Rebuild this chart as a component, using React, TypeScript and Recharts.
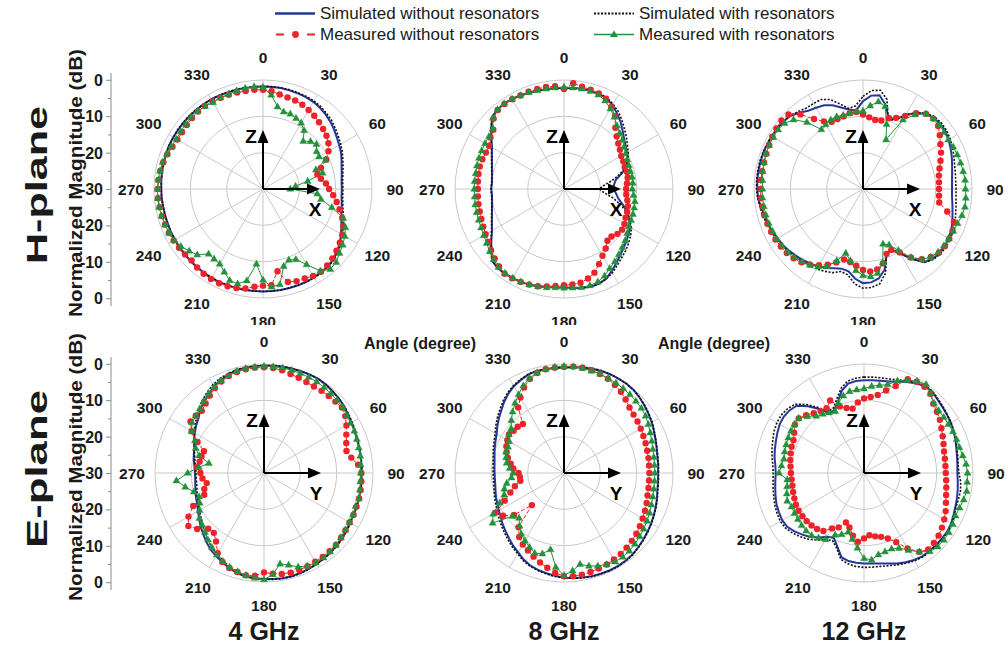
import {
  RadarChart, Radar, PolarGrid, PolarAngleAxis, PolarRadiusAxis,
  LineChart, Line, XAxis, YAxis,
} from 'recharts';

// angle categories, degrees clockwise from the top
const ANGLES = [
  0, 5, 10, 15, 20, 25, 30, 35, 40, 45, 50, 55,
  60, 65, 70, 75, 80, 85, 90, 95, 100, 105, 110, 115,
  120, 125, 130, 135, 140, 145, 150, 155, 160, 165, 170, 175,
  180, 185, 190, 195, 200, 205, 210, 215, 220, 225, 230, 235,
  240, 245, 250, 255, 260, 265, 270, 275, 280, 285, 290, 295,
  300, 305, 310, 315, 320, 325, 330, 335, 340, 345, 350, 355,
];
const ANGLE_LABELS = [0, 30, 60, 90, 120, 150, 180, 210, 240, 270, 300, 330];
const RING_DB = [-20, -10, 0];
// signed distance from the -30 dB centre, shown as 0 -10 -20 -30 -20 -10 0
const MAG_TICKS = [-30, -25, -20, -15, -10, -5, 0, 5, 10, 15, 20, 25, 30];

// ---- H-plane, 4 GHz (dB)
const H4_SIM_NO = [
  -1.8, -1.8, -1.8, -1.9, -2.0, -2.1, -2.3, -2.7, -3.2, -3.8, -4.5, -5.2,
  -5.8, -6.3, -7.0, -7.6, -8.0, -8.3, -8.3, -8.3, -8.0, -7.6, -7.0, -6.2,
  -5.2, -4.2, -3.3, -2.6, -2.2, -2.0, -1.9, -1.8, -1.8, -1.8, -1.8, -1.8,
  -1.8, -1.8, -1.8, -1.8, -1.7, -1.7, -1.7, -1.8, -1.8, -1.9, -1.9, -2.0,
  -2.0, -2.0, -2.1, -2.1, -2.1, -2.0, -2.0, -1.9, -1.8, -1.7, -1.6, -1.5,
  -1.5, -1.5, -1.5, -1.5, -1.5, -1.5, -1.5, -1.6, -1.7, -1.7, -1.8, -1.8,
];
const H4_SIM_WITH = [
  -1.7, -1.7, -1.7, -1.7, -1.8, -1.9, -2.0, -2.3, -2.8, -3.3, -4.0, -4.7,
  -5.3, -5.9, -6.6, -7.2, -7.7, -8.0, -8.0, -8.0, -7.7, -7.2, -6.5, -5.7,
  -4.7, -3.8, -3.0, -2.4, -2.1, -1.9, -1.8, -1.8, -1.8, -1.8, -1.8, -1.8,
  -1.8, -1.8, -1.8, -1.8, -1.8, -1.8, -1.8, -1.8, -1.9, -1.9, -2.0, -2.0,
  -2.1, -2.1, -2.1, -2.1, -2.1, -2.0, -2.0, -1.9, -1.8, -1.7, -1.6, -1.5,
  -1.5, -1.4, -1.4, -1.4, -1.4, -1.5, -1.5, -1.5, -1.6, -1.6, -1.7, -1.7,
];
const H4_MEAS_NO = [
  -2.7, -3.0, -3.6, -3.9, -4.1, -4.4, -4.9, -5.4, -6.0, -6.6, -7.2, -8.0,
  -9.2, -10.8, -13.0, -14.5, -13.8, -12.6, -11.8, -10.6, -9.4, -8.2, -6.8, -5.6,
  -4.8, -4.2, -3.6, -3.0, -2.5, -2.2, -2.4, -2.8, -3.0, -3.5, -7.0, -3.4,
  -3.4, -3.0, -2.2, -1.8, -1.5, -1.4, -1.4, -1.5, -1.8, -2.2, -2.0, -1.8,
  -1.6, -1.4, -1.3, -1.2, -1.1, -1.0, -1.0, -1.1, -1.3, -1.6, -2.0, -2.5,
  -2.8, -2.8, -2.6, -2.4, -2.2, -2.1, -2.2, -2.3, -2.4, -2.5, -2.6, -2.6,
];
const H4_MEAS_WITH = [
  -2.0, -4.0, -7.0, -8.0, -8.0, -8.5, -9.0, -10.3, -12.8, -11.5, -10.8, -12.0,
  -12.2, -11.0, -14.5, -13.0, -17.5, -21.0, -22.5, -15.0, -13.8, -10.4, -6.5, -5.0,
  -4.0, -3.2, -2.5, -1.5, -1.2, -2.5, -6.0, -8.6, -9.2, -8.0, -3.3, -3.0,
  -5.0, -9.3, -4.4, -3.0, -3.2, -4.8, -6.2, -6.5, -6.7, -4.4, -3.5, -2.4,
  -1.8, -1.5, -1.3, -1.1, -1.0, -0.9, -1.0, -1.1, -1.2, -1.4, -1.8, -2.2,
  -2.5, -2.4, -2.2, -2.0, -2.0, -2.2, -2.5, -2.3, -2.2, -2.0, -1.8, -1.7,
];

// ---- H-plane, 8 GHz
const H8_SIM_NO = [
  -2.1, -2.1, -2.0, -2.0, -2.1, -2.4, -3.3, -4.6, -5.8, -7.2, -8.4, -9.3,
  -10.0, -10.8, -11.5, -13.5, -15.5, -16.2, -16.3, -15.6, -14.8, -13.2, -11.4, -10.2,
  -9.0, -8.3, -7.6, -6.9, -6.0, -5.0, -3.8, -2.7, -2.2, -2.1, -2.4, -2.7,
  -2.9, -2.8, -2.6, -2.3, -2.0, -1.8, -1.7, -1.6, -1.6, -2.0, -3.9, -5.6,
  -7.1, -8.1, -8.9, -9.5, -9.9, -10.1, -10.0, -10.1, -9.9, -9.5, -8.9, -8.1,
  -7.1, -5.6, -3.9, -2.0, -1.5, -1.3, -1.4, -1.6, -1.8, -2.0, -2.1, -2.1,
];
const H8_SIM_WITH = [
  -2.1, -2.1, -2.0, -2.0, -2.0, -2.2, -3.0, -4.0, -5.2, -6.5, -7.6, -8.7,
  -9.6, -10.5, -12.0, -14.0, -16.5, -19.0, -20.3, -19.0, -16.5, -14.0, -11.8, -10.0,
  -8.6, -7.6, -6.8, -6.0, -5.3, -4.4, -3.4, -2.6, -2.2, -2.1, -2.4, -2.7,
  -2.9, -2.8, -2.6, -2.3, -2.0, -1.8, -1.7, -1.6, -1.6, -2.0, -3.8, -5.5,
  -7.0, -8.0, -8.8, -9.4, -9.8, -10.0, -9.9, -10.0, -9.8, -9.4, -8.8, -8.0,
  -7.0, -5.5, -3.8, -2.0, -1.5, -1.3, -1.4, -1.6, -1.8, -2.0, -2.1, -2.1,
];
const H8_MEAS_NO = [
  -2.5, -0.8, -1.4, -1.7, -2.0, -2.6, -4.0, -5.5, -8.0, -9.5, -10.5, -11.2,
  -11.8, -12.0, -12.2, -12.0, -12.2, -12.6, -12.9, -12.8, -12.3, -11.8, -11.5, -11.3,
  -10.8, -10.5, -10.8, -11.5, -11.4, -10.0, -8.8, -7.2, -5.5, -4.5, -3.8, -3.6,
  -3.5, -3.2, -2.8, -2.3, -2.0, -1.8, -1.6, -1.5, -2.2, -3.0, -3.8, -4.6,
  -5.1, -5.5, -5.8, -6.0, -6.1, -6.2, -6.3, -6.2, -6.1, -6.0, -6.1, -6.3,
  -6.2, -5.3, -4.6, -2.6, -1.6, -1.4, -1.5, -1.6, -1.5, -1.5, -1.5, -1.6,
];
const H8_MEAS_WITH = [
  -2.0, -2.0, -2.0, -2.1, -2.4, -3.2, -4.5, -5.8, -7.3, -8.3, -9.0, -9.8,
  -10.4, -10.8, -11.0, -11.1, -11.0, -11.0, -11.2, -10.8, -10.2, -10.0, -9.8, -9.6,
  -9.4, -8.8, -8.0, -7.3, -6.5, -5.6, -4.8, -3.6, -2.8, -2.5, -2.5, -2.7,
  -2.8, -2.8, -2.5, -2.2, -2.0, -1.8, -1.7, -1.7, -1.9, -2.6, -3.3, -4.0,
  -4.5, -4.8, -5.0, -5.1, -5.2, -5.3, -5.3, -5.3, -5.3, -5.2, -5.1, -5.0,
  -4.9, -4.8, -4.3, -2.3, -1.5, -1.3, -1.4, -1.6, -1.7, -1.9, -2.0, -2.0,
];

// ---- H-plane, 12 GHz
const H12_SIM_NO = [
  -5.8, -4.2, -3.8, -6.0, -9.3, -8.8, -6.5, -4.5, -3.0, -2.4, -2.2, -2.3,
  -2.8, -3.4, -4.0, -4.6, -5.1, -5.4, -5.5, -5.4, -5.0, -4.5, -3.8, -3.2,
  -2.8, -2.6, -2.5, -2.8, -3.8, -6.5, -9.5, -11.5, -11.0, -7.0, -5.0, -4.2,
  -4.1, -5.2, -7.0, -7.3, -6.8, -6.0, -5.4, -4.9, -4.4, -4.0, -3.5, -3.1,
  -2.9, -2.5, -2.1, -1.9, -1.5, -1.0, -0.9, -0.8, -0.8, -0.8, -0.8, -0.9,
  -1.0, -1.1, -1.3, -1.6, -2.6, -3.7, -4.2, -4.6, -5.5, -6.8, -7.8, -8.3,
];
const H12_SIM_WITH = [
  -4.5, -2.8, -2.4, -4.5, -9.8, -9.0, -6.5, -4.3, -2.8, -2.0, -1.8, -1.9,
  -2.3, -2.8, -3.4, -3.9, -4.2, -4.4, -4.4, -4.3, -4.0, -3.6, -3.0, -2.6,
  -2.3, -2.1, -2.2, -2.6, -3.6, -6.5, -9.8, -11.8, -11.2, -6.0, -3.5, -2.8,
  -2.7, -3.8, -6.0, -6.5, -5.5, -5.0, -4.6, -4.3, -4.0, -3.6, -3.2, -2.8,
  -2.5, -2.1, -1.8, -1.5, -1.2, -0.9, -0.7, -0.6, -0.6, -0.6, -0.7, -0.8,
  -0.9, -1.0, -1.2, -1.5, -2.2, -2.8, -2.8, -2.8, -3.8, -5.8, -7.5, -7.0,
];
const H12_MEAS_NO = [
  -9.5, -10.2, -10.7, -10.5, -9.2, -8.4, -6.8, -4.5, -3.0, -2.6, -3.0, -4.2,
  -5.4, -6.3, -7.3, -8.2, -8.8, -9.0, -9.1, -9.0, -8.7, -6.0, -3.4, -2.8,
  -2.6, -2.5, -2.7, -3.6, -4.8, -7.0, -9.8, -11.5, -11.0, -8.8, -7.5, -7.2,
  -7.7, -8.8, -9.6, -9.9, -8.5, -7.0, -5.8, -4.6, -3.7, -3.0, -2.6, -2.4,
  -2.2, -2.1, -2.0, -1.9, -1.9, -1.8, -1.8, -1.8, -1.8, -1.8, -1.7, -1.5,
  -1.2, -0.9, -0.7, -1.0, -3.2, -6.5, -8.5, -9.6, -9.5, -9.3, -8.8, -8.7,
];
const H12_MEAS_WITH = [
  -8.5, -7.0, -5.6, -6.5, -11.0, -15.0, -8.0, -5.0, -3.0, -2.6, -2.5, -2.8,
  -2.9, -2.6, -2.4, -2.2, -2.0, -1.8, -1.8, -1.6, -1.5, -1.8, -2.3, -2.6,
  -2.8, -2.8, -3.0, -3.6, -4.6, -7.0, -10.5, -13.0, -13.9, -9.0, -6.5, -5.8,
  -6.2, -7.5, -10.0, -11.7, -9.0, -6.5, -5.3, -4.5, -3.9, -3.4, -3.0, -2.8,
  -2.6, -2.5, -2.4, -2.3, -2.3, -2.2, -2.3, -2.2, -2.0, -1.8, -1.6, -1.5,
  -1.5, -1.5, -1.8, -3.0, -6.0, -10.0, -9.5, -9.0, -8.8, -9.0, -8.8, -8.6,
];

// ---- E-plane, 4 GHz
const E4_SIM_NO = [
  -0.5, -0.4, -0.3, -0.3, -0.2, -0.1, -0.1, -0.3, -0.6, -0.9, -1.3, -1.8,
  -2.2, -2.5, -2.8, -2.9, -3.0, -3.1, -3.1, -3.1, -3.0, -3.0, -2.9, -2.8,
  -2.7, -2.3, -2.0, -1.7, -1.5, -1.3, -1.1, -0.9, -0.7, -0.6, -0.6, -0.7,
  -0.8, -0.9, -1.0, -1.5, -2.1, -2.9, -3.6, -4.3, -5.3, -6.3, -7.2, -8.2,
  -9.0, -9.7, -10.1, -10.5, -10.8, -11.0, -11.0, -10.8, -10.4, -10.0, -9.6, -8.8,
  -8.0, -7.2, -6.5, -5.2, -4.4, -3.5, -2.5, -1.8, -1.2, -0.7, -0.6, -0.5,
];
const E4_SIM_WITH = [
  -0.4, -0.3, -0.2, -0.2, -0.2, -0.1, -0.1, -0.3, -0.6, -0.9, -1.2, -1.6,
  -2.0, -2.3, -2.6, -2.8, -2.9, -3.0, -3.0, -3.0, -2.9, -2.9, -2.8, -2.7,
  -2.5, -2.2, -1.9, -1.6, -1.4, -1.2, -1.0, -0.8, -0.6, -0.5, -0.5, -0.6,
  -0.7, -0.9, -1.2, -1.8, -2.5, -3.3, -4.2, -5.0, -6.0, -7.0, -7.9, -8.8,
  -9.5, -10.1, -10.5, -10.9, -11.2, -11.3, -11.3, -11.1, -10.7, -10.2, -9.6, -8.7,
  -7.8, -6.8, -5.9, -4.7, -3.7, -2.8, -1.9, -1.3, -0.9, -0.6, -0.5, -0.4,
];
const E4_MEAS_NO = [
  -0.9, -1.0, -1.3, -1.8, -2.1, -2.4, -2.5, -2.4, -2.3, -2.2, -2.0, -2.7,
  -3.8, -5.0, -5.9, -6.5, -5.6, -4.0, -3.2, -3.1, -3.0, -2.9, -2.9, -2.8,
  -2.8, -2.6, -2.3, -2.0, -1.9, -1.8, -1.8, -1.7, -1.6, -1.6, -1.8, -2.2,
  -2.6, -1.6, -1.4, -1.8, -2.2, -3.0, -4.5, -7.0, -8.5, -8.3, -6.0, -4.6,
  -6.0, -8.5, -12.5, -13.0, -14.0, -13.0, -12.5, -11.5, -12.0, -12.2, -12.4, -9.8,
  -7.0, -5.3, -5.5, -5.8, -5.0, -4.0, -3.0, -2.2, -1.6, -1.2, -1.0, -0.9,
];
const E4_MEAS_WITH = [
  -0.6, -0.6, -0.6, -0.7, -0.8, -0.9, -1.0, -1.2, -1.4, -1.6, -1.8, -2.2,
  -2.5, -2.6, -2.8, -3.0, -3.1, -3.3, -3.4, -3.4, -3.2, -3.0, -3.2, -3.0,
  -2.9, -2.7, -2.4, -2.0, -1.7, -1.5, -1.5, -1.8, -2.5, -3.8, -4.6, -2.0,
  -0.7, -1.0, -1.4, -1.9, -2.4, -3.2, -4.0, -5.0, -6.0, -7.0, -7.8, -8.3,
  -9.5, -10.5, -11.0, -10.0, -8.0, -5.8, -9.0, -12.0, -14.6, -11.5, -10.0, -9.0,
  -7.0, -5.8, -5.5, -5.0, -4.2, -3.4, -2.6, -2.0, -1.5, -1.0, -0.8, -0.7,
];

// ---- E-plane, 8 GHz
const E8_SIM_NO = [
  -1.0, -0.8, -0.6, -0.3, -0.1, 0, 0, 0, -0.2, -0.6, -1.1, -1.6,
  -2.1, -2.7, -3.2, -3.6, -3.9, -4.0, -4.1, -4.0, -3.9, -3.5, -3.1, -2.7,
  -2.3, -1.9, -1.5, -1.1, -0.7, -0.5, -0.4, -0.4, -0.5, -0.6, -0.8, -1.0,
  -1.2, -1.6, -2.0, -2.4, -2.9, -3.7, -4.8, -5.6, -6.5, -7.3, -8.0, -8.8,
  -9.3, -9.8, -10.1, -10.5, -10.8, -10.9, -10.9, -10.8, -10.6, -10.2, -9.7, -9.2,
  -8.6, -7.6, -6.6, -5.6, -4.4, -3.3, -2.4, -1.8, -1.2, -0.9, -1.0, -1.0,
];
const E8_SIM_WITH = [
  -0.9, -0.7, -0.5, -0.2, 0, 0, 0, 0, -0.2, -0.5, -1.0, -1.5,
  -2.0, -2.6, -3.1, -3.5, -3.8, -3.9, -4.0, -3.9, -3.8, -3.4, -3.0, -2.6,
  -2.2, -1.8, -1.4, -1.0, -0.6, -0.4, -0.3, -0.3, -0.4, -0.5, -0.7, -0.9,
  -1.1, -1.4, -1.8, -2.2, -2.7, -3.4, -4.4, -5.2, -6.0, -6.8, -7.5, -8.2,
  -8.8, -9.3, -9.7, -10.1, -10.4, -10.5, -10.5, -10.4, -10.2, -9.8, -9.3, -8.8,
  -8.1, -7.1, -6.1, -5.1, -4.0, -3.0, -2.2, -1.6, -1.1, -0.9, -0.9, -0.9,
];
const E8_MEAS_NO = [
  -0.8, -0.6, -0.6, -0.7, -1.0, -1.4, -2.0, -2.7, -3.6, -4.5, -5.0, -5.3,
  -5.6, -5.9, -6.1, -6.3, -6.4, -6.5, -6.5, -6.5, -6.4, -6.2, -5.8, -5.4,
  -5.0, -4.5, -4.0, -3.6, -3.2, -2.8, -2.5, -2.2, -2.0, -1.8, -1.6, -1.5,
  -1.6, -2.4, -3.5, -4.5, -5.5, -6.5, -7.3, -8.5, -10.5, -17.5, -12.0, -9.5,
  -8.2, -12.0, -14.3, -16.0, -17.8, -17.8, -17.5, -16.0, -15.1, -14.0, -13.2, -12.5,
  -12.0, -11.5, -11.9, -12.0, -12.4, -8.0, -6.0, -4.0, -2.5, -1.5, -1.0, -0.9,
];
const E8_MEAS_WITH = [
  -0.6, -0.6, -0.7, -0.9, -1.0, -1.2, -1.4, -1.6, -1.8, -2.0, -2.2, -2.6,
  -3.2, -3.8, -4.3, -4.7, -4.9, -5.0, -5.0, -5.0, -4.9, -4.7, -4.4, -4.0,
  -3.6, -3.2, -2.8, -2.4, -2.0, -1.8, -1.8, -2.2, -2.8, -3.5, -4.5, -3.0,
  -1.8, -4.0, -8.6, -7.0, -6.5, -7.5, -8.5, -9.5, -11.0, -12.5, -11.5, -6.0,
  -7.5, -10.5, -12.5, -13.0, -14.0, -15.5, -16.0, -15.0, -14.0, -13.5, -13.0, -13.0,
  -12.6, -11.5, -11.0, -9.5, -8.0, -6.5, -5.0, -3.5, -2.2, -1.4, -1.0, -0.7,
];

// ---- E-plane, 12 GHz
const E12_SIM_NO = [
  -4.5, -4.4, -4.2, -3.9, -3.2, -2.4, -1.5, -0.8, -0.8, -1.4, -1.8, -2.1,
  -2.4, -2.8, -3.2, -3.7, -4.0, -4.2, -4.3, -4.1, -3.8, -3.5, -3.2, -2.8,
  -2.3, -2.0, -2.0, -2.0, -2.0, -2.0, -2.4, -2.9, -3.5, -4.2, -4.7, -5.0,
  -5.1, -5.2, -5.4, -6.0, -8.5, -10.3, -9.7, -8.3, -7.0, -6.0, -5.0, -4.2,
  -4.0, -4.2, -4.4, -4.8, -5.2, -5.5, -5.7, -5.5, -5.0, -4.6, -4.2, -3.7,
  -3.2, -3.0, -3.2, -3.8, -6.0, -8.5, -11.0, -10.8, -9.0, -6.5, -5.0, -4.6,
];
const E12_SIM_WITH = [
  -3.6, -3.5, -3.4, -3.2, -2.7, -2.0, -1.2, -0.6, -0.6, -1.2, -1.6, -2.0,
  -2.3, -2.7, -3.1, -3.5, -3.8, -4.0, -3.9, -3.3, -3.0, -3.0, -3.0, -2.6,
  -2.1, -1.8, -1.8, -1.8, -1.8, -1.8, -2.1, -2.6, -3.1, -3.6, -3.9, -4.0,
  -4.0, -4.2, -4.6, -5.4, -8.0, -9.5, -8.8, -7.5, -6.2, -5.2, -4.3, -3.6,
  -3.4, -3.6, -3.9, -4.3, -4.6, -4.9, -5.0, -4.8, -4.3, -3.8, -3.3, -2.7,
  -2.3, -2.2, -2.5, -3.2, -5.4, -8.0, -10.5, -10.2, -8.2, -5.8, -4.3, -3.8,
];
const E12_MEAS_NO = [
  -9.5, -9.0, -8.2, -6.5, -4.5, -1.5, -1.0, -1.0, -1.5, -3.0, -3.8, -4.5,
  -5.4, -6.1, -6.7, -7.2, -7.4, -7.5, -7.5, -7.3, -7.0, -6.6, -6.0, -5.2,
  -4.5, -3.8, -3.2, -2.8, -2.5, -3.5, -6.0, -9.0, -10.8, -11.8, -12.3, -12.8,
  -12.0, -11.0, -12.5, -14.5, -15.5, -13.5, -12.4, -10.5, -9.9, -9.6, -9.4, -9.3,
  -9.2, -9.3, -9.6, -9.8, -10.0, -10.0, -9.9, -9.7, -9.4, -9.1, -8.8, -8.6,
  -7.8, -6.8, -6.6, -7.5, -8.5, -9.2, -9.4, -8.0, -10.5, -11.5, -12.0, -10.5,
];
const E12_MEAS_WITH = [
  -6.8, -6.0, -5.5, -4.8, -3.0, -1.8, -0.8, -0.2, -1.5, -2.8, -3.2, -3.2,
  -3.2, -3.0, -2.9, -2.8, -2.4, -1.8, -1.5, -1.5, -1.3, -1.6, -2.0, -2.2,
  -1.8, -1.5, -1.3, -1.3, -1.8, -3.5, -5.5, -7.2, -7.8, -7.6, -7.2, -6.0,
  -6.5, -9.3, -11.5, -13.2, -12.0, -11.2, -8.9, -8.2, -7.6, -7.5, -7.6, -7.8,
  -7.9, -8.0, -7.5, -8.0, -8.5, -8.8, -6.6, -7.2, -7.6, -7.4, -7.2, -7.0,
  -6.8, -6.6, -6.5, -8.0, -9.5, -10.2, -10.8, -11.3, -9.5, -8.0, -7.2, -7.0,
];

const FONT = '"Liberation Sans", Arial, Helvetica, sans-serif';
const BLUE = '#26379a';
const BLACK = '#111111';
const RED = '#ee2229';
const GREEN = '#24913b';
const GRID = '#c9c9c9';
const INK = '#1a1a1a';

const R = 109;
const SIZE = 300;
const HALF = SIZE / 2;
const ROW_Y = [189, 473];

type Panel = {
  cx: number; cy: number; arrow: string;
  simNo: number[]; simWith: number[]; measNo: number[]; measWith: number[];
};

const TOP_PANELS: Panel[] = [
  { cx: 263, cy: ROW_Y[0], arrow: 'X', simNo: H4_SIM_NO, simWith: H4_SIM_WITH, measNo: H4_MEAS_NO, measWith: H4_MEAS_WITH },
  { cx: 564, cy: ROW_Y[0], arrow: 'X', simNo: H8_SIM_NO, simWith: H8_SIM_WITH, measNo: H8_MEAS_NO, measWith: H8_MEAS_WITH },
  { cx: 863, cy: ROW_Y[0], arrow: 'X', simNo: H12_SIM_NO, simWith: H12_SIM_WITH, measNo: H12_MEAS_NO, measWith: H12_MEAS_WITH },
];
const BOTTOM_PANELS: Panel[] = [
  { cx: 264, cy: ROW_Y[1], arrow: 'Y', simNo: E4_SIM_NO, simWith: E4_SIM_WITH, measNo: E4_MEAS_NO, measWith: E4_MEAS_WITH },
  { cx: 564, cy: ROW_Y[1], arrow: 'Y', simNo: E8_SIM_NO, simWith: E8_SIM_WITH, measNo: E8_MEAS_NO, measWith: E8_MEAS_WITH },
  { cx: 864, cy: ROW_Y[1], arrow: 'Y', simNo: E12_SIM_NO, simWith: E12_SIM_WITH, measNo: E12_MEAS_NO, measWith: E12_MEAS_WITH },
];
const FREQS = ['4 GHz', '8 GHz', '12 GHz'];

const AngleTick = (props: any) => {
  const v = Number(props.payload?.value);
  if (!ANGLE_LABELS.includes(v)) return <g />;
  return (
    <text x={props.x} y={props.y} textAnchor="middle" dominantBaseline="central"
      fontSize={15.5} fontWeight="bold" fill={INK} fontFamily={FONT}>{v}</text>
  );
};

const TriangleDot = (props: any) => {
  const { cx, cy } = props;
  if (cx == null || cy == null) return <g />;
  return <path d={`M${cx},${cy - 3.9}L${cx + 3.5},${cy + 2.3}L${cx - 3.5},${cy + 2.3}Z`} fill={GREEN} stroke={GREEN} strokeWidth={0.4} />;
};

const CircleDot = (props: any) => {
  const { cx, cy } = props;
  if (cx == null || cy == null) return <g />;
  return <circle cx={cx} cy={cy} r={3.2} fill={RED} stroke="none" />;
};

function PolarPanel({ p }: { p: Panel }) {
  const rows = ANGLES.map((a, i) => ({
    angle: a, simNo: p.simNo[i], simWith: p.simWith[i], measNo: p.measNo[i], measWith: p.measWith[i],
  }));
  const rings = RING_DB.map((d) => (R * (d + 30)) / 30);
  return (
    <div style={{ position: 'absolute', left: p.cx - HALF, top: p.cy - HALF }}>
      <RadarChart width={SIZE} height={SIZE} cx={HALF} cy={HALF} outerRadius={R} data={rows}
        startAngle={90} endAngle={-270} margin={{ top: 0, right: 0, bottom: 0, left: 0 }}>
        <PolarGrid gridType="circle" polarAngles={ANGLE_LABELS} polarRadius={rings} stroke={GRID} strokeWidth={1} />
        <PolarAngleAxis dataKey="angle" tick={AngleTick} tickSize={23} tickLine={false} axisLine={false} />
        <PolarRadiusAxis type="number" domain={[-30, 0]} tickCount={4} tick={false} axisLine={false} allowDataOverflow />
        <Radar dataKey="simNo" stroke={BLUE} strokeWidth={2} fill="none" fillOpacity={0} dot={false} isAnimationActive={false} />
        <Radar dataKey="simWith" stroke={BLACK} strokeWidth={1.6} strokeDasharray="2 1.6" fill="none" fillOpacity={0} dot={false} isAnimationActive={false} />
        <Radar dataKey="measNo" stroke={RED} strokeWidth={1} strokeDasharray="4 2" fill="none" fillOpacity={0}
          dot={CircleDot} isAnimationActive={false} />
        <Radar dataKey="measWith" stroke={GREEN} strokeWidth={1} fill="none" fillOpacity={0} dot={TriangleDot} isAnimationActive={false} />
      </RadarChart>
    </div>
  );
}

const MagTick = (props: any) => {
  const { x, y, payload } = props;
  const v = Number(payload?.value);
  const major = v % 10 === 0;
  return (
    <g>
      <line x1={x - (major ? 5 : 3)} x2={x} y1={y} y2={y} stroke="#8a8a8a" strokeWidth={1} />
      {major && (
        <text x={x - 8} y={y} textAnchor="end" dominantBaseline="central" fontSize={16}
          fontWeight="bold" fill={INK} fontFamily={FONT}>{Math.abs(v) - 30}</text>
      )}
    </g>
  );
};

function MagnitudeAxis({ cy }: { cy: number }) {
  const rows = MAG_TICKS.map((v) => ({ v }));
  return (
    <div style={{ position: 'absolute', left: 51, top: cy - 136.5 }}>
      <LineChart width={66} height={273} data={rows} margin={{ top: 20, right: 6, bottom: 20, left: 0 }}>
        <XAxis dataKey="v" hide />
        <YAxis type="number" domain={[-32, 32]} ticks={MAG_TICKS} interval={0} width={60}
          tick={MagTick} tickLine={false} tickSize={0} tickMargin={0}
          axisLine={{ stroke: '#8a8a8a' }} allowDataOverflow />
        <Line dataKey="v" stroke="none" dot={false} isAnimationActive={false} />
      </LineChart>
    </div>
  );
}

function Arrows({ p }: { p: Panel }) {
  const { cx, cy } = p;
  return (
    <g>
      <line x1={cx} y1={cy} x2={cx} y2={cy - 48} stroke="#000" strokeWidth={2} />
      <path d={`M${cx - 5.5},${cy - 46}L${cx + 5.5},${cy - 46}L${cx},${cy - 59}Z`} fill="#000" />
      <line x1={cx} y1={cy} x2={cx + 46} y2={cy} stroke="#000" strokeWidth={2} />
      <path d={`M${cx + 44},${cy - 5.5}L${cx + 44},${cy + 5.5}L${cx + 57},${cy}Z`} fill="#000" />
      <text x={cx - 12} y={cy - 53} textAnchor="middle" dominantBaseline="central" fontSize={19} fontWeight="bold" fontFamily={FONT}>Z</text>
      <text x={cx + 52} y={cy + 20} textAnchor="middle" dominantBaseline="central" fontSize={19} fontWeight="bold" fontFamily={FONT}>{p.arrow}</text>
    </g>
  );
}

export default function App() {
  const all = [...TOP_PANELS, ...BOTTOM_PANELS];
  return (
    <div style={{ position: 'absolute', left: 0, top: 0, width: 1008, height: 648, background: '#fff', overflow: 'hidden', fontFamily: FONT }}>
      {TOP_PANELS.map((p, i) => <PolarPanel key={`t${i}`} p={p} />)}
      <MagnitudeAxis cy={ROW_Y[0]} />
      <div style={{ position: 'absolute', left: 0, top: 325, width: 1008, height: 323, background: '#fff' }} />
      {BOTTOM_PANELS.map((p, i) => <PolarPanel key={`b${i}`} p={p} />)}
      <MagnitudeAxis cy={ROW_Y[1]} />
      <svg width={1008} height={648} style={{ position: 'absolute', left: 0, top: 0, pointerEvents: 'none' }}>
        {all.map((p, i) => <Arrows key={i} p={p} />)}

        {/* legend */}
        <line x1={275} x2={315} y1={13.5} y2={13.5} stroke={BLUE} strokeWidth={2.5} />
        <text x={320} y={13.5} dominantBaseline="central" fontSize={17} fill={INK} fontFamily={FONT}>Simulated without resonators</text>
        <line x1={594} x2={634} y1={13.5} y2={13.5} stroke={BLACK} strokeWidth={2} strokeDasharray="2 1.5" />
        <text x={639} y={13.5} dominantBaseline="central" fontSize={17} fill={INK} fontFamily={FONT}>Simulated with resonators</text>
        <line x1={276} x2={284} y1={34.5} y2={34.5} stroke={RED} strokeWidth={2} />
        <circle cx={295.5} cy={34.5} r={3.4} fill={RED} />
        <line x1={307} x2={315} y1={34.5} y2={34.5} stroke={RED} strokeWidth={2} />
        <text x={320} y={34.5} dominantBaseline="central" fontSize={17} fill={INK} fontFamily={FONT}>Measured without resonators</text>
        <line x1={594} x2={634} y1={34.5} y2={34.5} stroke={GREEN} strokeWidth={1.5} />
        <path d="M614,30.5L618,37L610,37Z" fill={GREEN} />
        <text x={639} y={34.5} dominantBaseline="central" fontSize={17} fill={INK} fontFamily={FONT}>Measured with resonators</text>

        {/* row labels */}
        {ROW_Y.map((cy, i) => (
          <g key={i}>
            <text transform={`translate(36,${cy - 4}) rotate(-90)`} textAnchor="middle" dominantBaseline="central"
              fontSize={30} fontWeight="bold" fill={INK} fontFamily={FONT} textLength={158} lengthAdjust="spacingAndGlyphs">
              {i === 0 ? 'H-plane' : 'E-plane'}
            </text>
            <text transform={`translate(75,${cy - 6}) rotate(-90)`} textAnchor="middle" dominantBaseline="central"
              fontSize={19} fontWeight="bold" fill={INK} fontFamily={FONT} textLength={268} lengthAdjust="spacingAndGlyphs">
              Normalized Magnitude (dB)
            </text>
          </g>
        ))}

        <text x={420} y={343} textAnchor="middle" dominantBaseline="central" fontSize={16} fontWeight="bold" fill={INK} fontFamily={FONT}>Angle (degree)</text>
        <text x={714} y={343} textAnchor="middle" dominantBaseline="central" fontSize={16} fontWeight="bold" fill={INK} fontFamily={FONT}>Angle (degree)</text>

        {BOTTOM_PANELS.map((p, i) => (
          <text key={i} x={p.cx} y={640} textAnchor="middle" fontSize={25} fontWeight="bold" fill={INK} fontFamily={FONT}>{FREQS[i]}</text>
        ))}
      </svg>
    </div>
  );
}
